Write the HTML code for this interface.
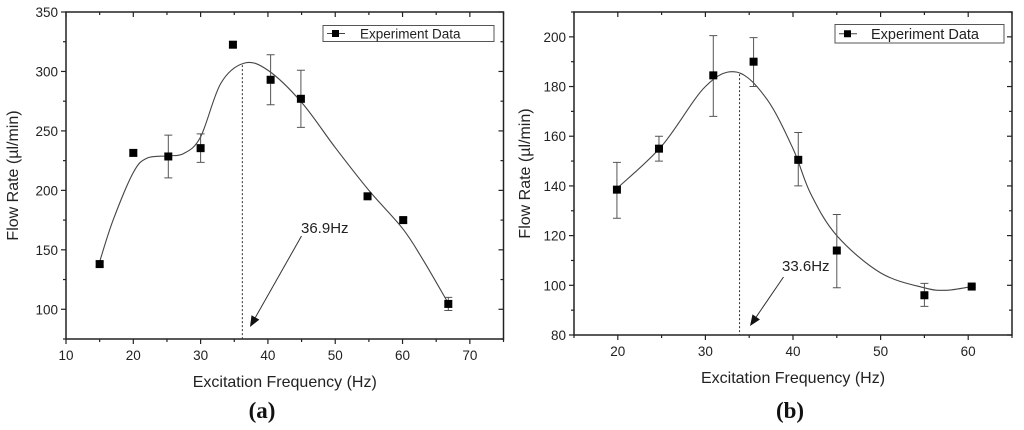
<!DOCTYPE html>
<html><head><meta charset="utf-8">
<style>
html,body{margin:0;padding:0;background:#fff;}
svg{display:block;font-family:"Liberation Sans",sans-serif;}
</style></head>
<body>
<svg id="s" width="1024" height="430" viewBox="0 0 1024 430" xmlns="http://www.w3.org/2000/svg"></svg>
<script>
// ---- Chart (a) data ----
const aFreq = [15, 20, 25.2, 30, 34.8, 40.4, 44.9, 54.8, 60.1, 66.8];
const aFlow = [138, 231.5, 228.5, 235.5, 322.5, 293, 277, 195, 175, 104.5];
const aErrLo = [136, 229, 210.5, 223.5, 320, 272, 253, 193, 173, 99];
const aErrHi = [140, 234, 246.5, 247.5, 325, 314, 301, 197, 177, 110];
const aFitX = [15, 17, 20, 22, 25, 27.5, 30, 33, 36.5, 40, 45, 50, 55, 60, 63, 66.8];
const aFitY = [140, 175, 215, 227, 229, 231, 245, 290, 307, 301, 274, 236, 200, 168, 142, 105];
const aXTicks = [10, 20, 30, 40, 50, 60, 70];
const aYTicks = [100, 150, 200, 250, 300, 350];
const aPeak = 36.2;
// ---- Chart (b) data ----
const bFreq = [19.9, 24.7, 30.9, 35.5, 40.6, 45, 55, 60.4];
const bFlow = [138.5, 155, 184.5, 190, 150.5, 114, 96, 99.5];
const bErrLo = [127, 150, 168, 180, 140, 99, 91.5, 99];
const bErrHi = [149.5, 160, 200.5, 199.7, 161.5, 128.5, 100.8, 100];
const bFitX = [19.9, 25, 30, 33.6, 37, 40, 42, 45, 50, 55, 57.5, 60.4];
const bFitY = [139, 156, 180, 185.8, 175, 155, 137, 120, 105, 99, 98, 99.5];
const bXTicks = [20, 30, 40, 50, 60];
const bYTicks = [80, 100, 120, 140, 160, 180, 200];
const bPeak = 33.9;

const NS = "http://www.w3.org/2000/svg";
const svg = document.getElementById('s');
function mk(tag, attrs, parent, text) {
  const e = document.createElementNS(NS, tag);
  for (const k in attrs) e.setAttribute(k, attrs[k]);
  if (text !== undefined) e.textContent = text;
  (parent || svg).appendChild(e);
  return e;
}
function catmull(pts) {
  let d = `M${pts[0][0]},${pts[0][1]}`;
  for (let i = 0; i < pts.length - 1; i++) {
    const p0 = pts[Math.max(i - 1, 0)], p1 = pts[i], p2 = pts[i + 1], p3 = pts[Math.min(i + 2, pts.length - 1)];
    const c1 = [p1[0] + (p2[0] - p0[0]) / 6, p1[1] + (p2[1] - p0[1]) / 6];
    const c2 = [p2[0] - (p3[0] - p1[0]) / 6, p2[1] - (p3[1] - p1[1]) / 6];
    d += ` C${c1[0]},${c1[1]} ${c2[0]},${c2[1]} ${p2[0]},${p2[1]}`;
  }
  return d;
}

function chart(cfg) {
  const g = mk('g', {});
  
  
  const X = v => cfg.L + (v - cfg.x0) / (cfg.x1 - cfg.x0) * (cfg.R - cfg.L);
  const Y = v => cfg.B - (v - cfg.y0) / (cfg.y1 - cfg.y0) * (cfg.B - cfg.T);
  const frame = mk('rect', {x: cfg.L, y: cfg.T, width: cfg.R - cfg.L, height: cfg.B - cfg.T, fill: 'none', stroke: '#222', 'stroke-width': 1.5}, g);
  
  
  const xs = cfg.xTicks;
  const xstep = xs[1] - xs[0];
  for (let v = cfg.x0; v <= cfg.x1 + 1e-6; v += xstep / 2) {
    const major = xs.some(t => Math.abs(t - v) < 1e-6);
    const len = major ? 5 : 3;
    mk('line', {x1: X(v), x2: X(v), y1: cfg.B, y2: cfg.B + len, stroke: '#222', 'stroke-width': 1.2}, g);
    mk('line', {x1: X(v), x2: X(v), y1: cfg.T, y2: cfg.T + len, stroke: '#222', 'stroke-width': 1.2}, g);
  }
  xs.forEach(v => {
    const t = mk('text', {x: X(v), y: cfg.B + 21, 'text-anchor': 'middle', 'font-size': 13.5, fill: '#222'}, g, String(v));
    
    
  });
  const ys = cfg.yTicks;
  const ystep = ys[1] - ys[0];
  for (let v = cfg.y0; v <= cfg.y1 + 1e-6; v += ystep / 2) {
    const major = ys.some(t => Math.abs(t - v) < 1e-6);
    const len = major ? 5 : 3;
    mk('line', {x1: cfg.L - len, x2: cfg.L, y1: Y(v), y2: Y(v), stroke: '#222', 'stroke-width': 1.2}, g);
    mk('line', {x1: cfg.R - len, x2: cfg.R, y1: Y(v), y2: Y(v), stroke: '#222', 'stroke-width': 1.2}, g);
  }
  ys.forEach(v => {
    const t = mk('text', {x: cfg.L - 8, y: Y(v) + 5, 'text-anchor': 'end', 'font-size': 13.5, fill: '#222'}, g, String(v));
    
    
  });
  const xt = mk('text', {x: (cfg.L + cfg.R) / 2, y: cfg.B + 48, 'text-anchor': 'middle', 'font-size': 16, fill: '#222'}, g, 'Excitation Frequency (Hz)');
  
  
  const yt = mk('text', {x: 0, y: 0, 'text-anchor': 'middle', 'font-size': 16, fill: '#222', transform: `translate(${cfg.yTitleX},${(cfg.T + cfg.B) / 2}) rotate(-90)`}, g, 'Flow Rate (µl/min)');
  
  
  const pts = cfg.fitX.map((v, i) => [X(v), Y(cfg.fitY[i])]);
  const fit = mk('path', {d: catmull(pts), fill: 'none', stroke: '#444', 'stroke-width': 1.1}, g);
  
  
  const peakY = Math.max(...cfg.fitY);
  const pl = mk('line', {x1: X(cfg.peak), x2: X(cfg.peak), y1: Y(peakY) + 2, y2: cfg.B, stroke: '#333', 'stroke-width': 1, 'stroke-dasharray': '2,2'}, g);
  
  
  cfg.freq.forEach((v, i) => {
    const x = X(v);
    const eb = mk('path', {d: `M${x},${Y(cfg.lo[i])}V${Y(cfg.hi[i])}M${x - 4},${Y(cfg.lo[i])}H${x + 4}M${x - 4},${Y(cfg.hi[i])}H${x + 4}`, stroke: '#555', 'stroke-width': 1, fill: 'none'}, g);
    
    
    const p = mk('rect', {x: x - 4, y: Y(cfg.flow[i]) - 4, width: 8, height: 8, fill: '#000'}, g);
    
    
  });
  const [ax1, ay1, ax2, ay2] = cfg.arrow;
  const ang = Math.atan2(ay2 - ay1, ax2 - ax1);
  const hl = 11, hw = 4.5;
  const bx = ax2 - hl * Math.cos(ang), by = ay2 - hl * Math.sin(ang);
  const arr = mk('g', {}, g);
  
  
  mk('line', {x1: ax1, y1: ay1, x2: bx, y2: by, stroke: '#333', 'stroke-width': 1}, arr);
  mk('polygon', {points: `${ax2},${ay2} ${bx - hw * Math.sin(ang)},${by + hw * Math.cos(ang)} ${bx + hw * Math.sin(ang)},${by - hw * Math.cos(ang)}`, fill: '#111'}, arr);
  const lab = mk('text', {x: cfg.labelXY[0], y: cfg.labelXY[1], 'font-size': 15, fill: '#222'}, g, cfg.label);
  
  
  const [lx, ly, lw, lh] = cfg.legend;
  const leg = mk('g', {}, g);
  
  
  mk('rect', {x: lx, y: ly, width: lw, height: lh, fill: '#fff', stroke: '#555', 'stroke-width': 1}, leg);
  mk('line', {x1: lx + 4, x2: lx + 22, y1: ly + lh / 2, y2: ly + lh / 2, stroke: '#444', 'stroke-width': 1}, leg);
  mk('rect', {x: lx + 9, y: ly + lh / 2 - 3.5, width: 7, height: 7, fill: '#000'}, leg);
  mk('text', {x: lx + cfg.legTextDx, y: ly + lh / 2 + 5, 'font-size': cfg.legFont, fill: '#222'}, leg, 'Experiment Data');
  const cap = mk('text', {x: cfg.capX, y: 418, 'text-anchor': 'middle', 'font-size': 23, 'font-weight': 'bold', 'font-family': '"Liberation Serif",serif', fill: '#111'}, g, cfg.caption);
  
  
}

chart({name: 'chart-a', L: 66, R: 503.5, T: 12, B: 339, x0: 10, x1: 75, y0: 75, y1: 350,
  xTicks: aXTicks, yTicks: aYTicks, freq: aFreq, flow: aFlow, lo: aErrLo, hi: aErrHi,
  fitX: aFitX, fitY: aFitY, peak: aPeak, arrow: [301.5, 236, 250, 327],
  label: '36.9Hz', labelXY: [301, 233], legend: [323, 25.5, 171, 16], legTextDx: 37, legFont: 13.5,
  caption: '(a)', capX: 262, yTitleX: 18});
chart({name: 'chart-b', L: 574, R: 1012, T: 12, B: 335, x0: 15, x1: 65, y0: 80, y1: 210,
  xTicks: bXTicks, yTicks: bYTicks, freq: bFreq, flow: bFlow, lo: bErrLo, hi: bErrHi,
  fitX: bFitX, fitY: bFitY, peak: bPeak, arrow: [783.5, 277, 750, 326],
  label: '33.6Hz', labelXY: [782, 271], legend: [835, 24.5, 169, 18.5], legTextDx: 36, legFont: 14.5,
  caption: '(b)', capX: 790, yTitleX: 530});
</script>
</body></html>
